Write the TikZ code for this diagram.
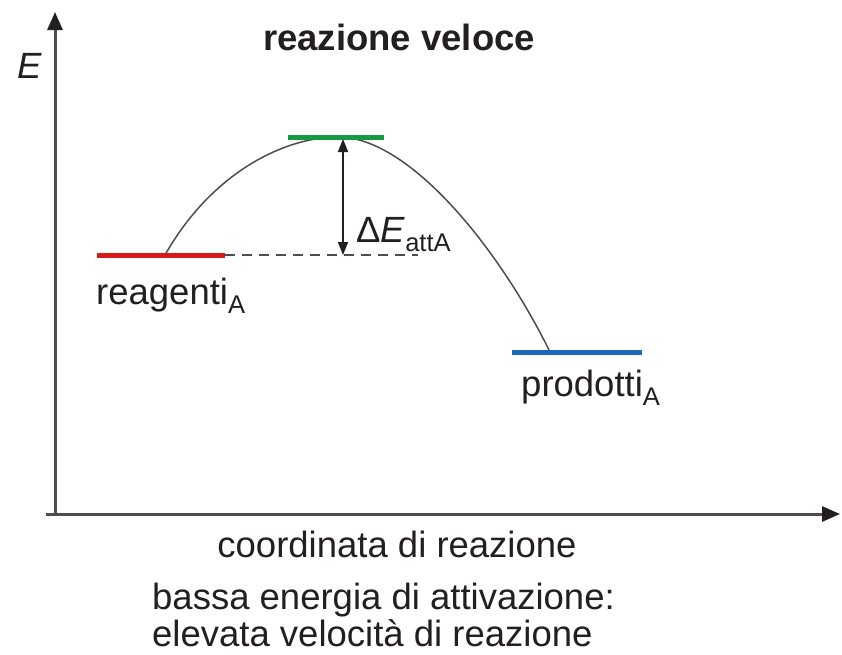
\documentclass[tikz,border=0pt]{standalone}
\usepackage{fontspec}
\setmainfont{Liberation Sans}
\usetikzlibrary{arrows.meta}
\definecolor{txt}{HTML}{231F20}
\definecolor{axisc}{HTML}{4D4D4D}
\definecolor{redl}{HTML}{D7191C}
\definecolor{greenl}{HTML}{139A43}
\definecolor{bluel}{HTML}{1B6AB5}
\tikzset{
  lbl/.style={inner sep=0pt, text=txt, font=\fontsize{36.5}{46}\selectfont},
  axisline/.style={draw=axisc, line width=3pt, -{Triangle[length=18pt,width=15pt,color=txt]}},
  level/.style={line width=5pt},
  curveline/.style={draw=axisc, line width=1.5pt},
  dashline/.style={draw=axisc, line width=1.8pt, dash pattern=on 10pt off 7pt},
  dimarrow/.style={draw=txt, line width=1.8pt, {Triangle[length=13pt,width=10pt]}-{Triangle[length=13pt,width=10pt]}}
}
\begin{document}
\begin{tikzpicture}[x=1pt,y=-1pt]
\useasboundingbox (0,0) rectangle (842,654);
% axes
\coordinate (origin) at (55,514);
\coordinate (ytop) at (55,12);
\coordinate (xleft) at (46,514);
\coordinate (xright) at (840,514);
\draw[axisline] (origin) -- (ytop);
\draw[axisline] (xleft) -- (xright);
% levels
\coordinate (r1) at (97,255);
\coordinate (r2) at (225,255);
\coordinate (t1) at (288,137);
\coordinate (t2) at (384,137);
\coordinate (p1) at (512,352);
\coordinate (p2) at (642,352);
\coordinate (rs) at (165,255);
\coordinate (peak) at (338,137);
\coordinate (pe) at (550,352);
\coordinate (dend) at (418,255);
\coordinate (atop) at (343,139);
\coordinate (abot) at (343,255);
\draw[dashline] (r2) -- (dend);
\draw[curveline] (rs) .. controls (212,172) and (285,137) .. (peak)
  .. controls (410,137) and (500,250) .. (pe);
\draw[level, draw=redl] (r1) -- (r2);
\draw[level, draw=greenl] (t1) -- (t2);
\draw[level, draw=bluel] (p1) -- (p2);
\draw[dimarrow] (atop) -- (abot);
% labels
\node[lbl, anchor=base west] (elabel) at (17,78) {\itshape E};
\node[lbl, anchor=base, font=\fontsize{36.5}{46}\selectfont\bfseries] (title) at (399,50) {reazione veloce};
\node[lbl, anchor=base west] (dE) at (356,242) {Δ\textit{E}\textsubscript{attA}};
\node[lbl, anchor=base west] (reag) at (96,304) {reagenti\textsubscript{A}};
\node[lbl, anchor=base west] (prod) at (521,396) {prodotti\textsubscript{A}};
\node[lbl, anchor=base] (xlabel) at (397,557) {coordinata di reazione};
\node[lbl, anchor=base west] (c1) at (152,609) {bassa energia di attivazione:};
\node[lbl, anchor=base west] (c2) at (152,646) {elevata velocità di reazione};
\end{tikzpicture}
\end{document}
